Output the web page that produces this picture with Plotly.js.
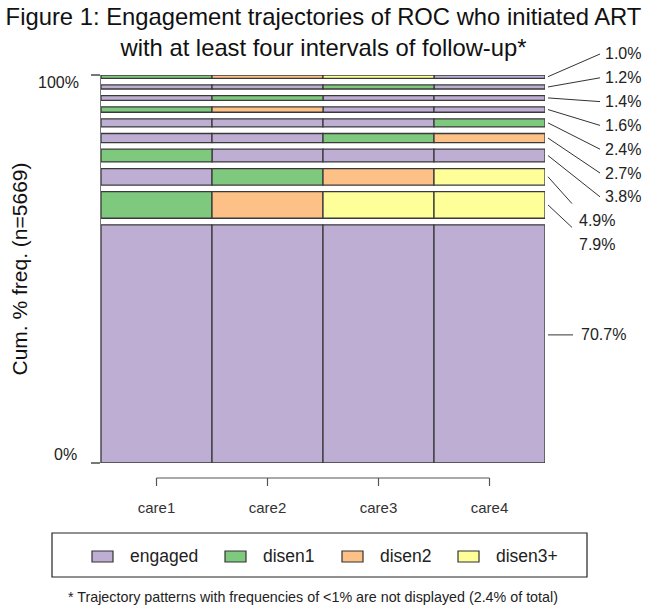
<!DOCTYPE html>
<html>
<head>
<meta charset="utf-8">
<script src="https://cdn.plot.ly/plotly-3.0.1.min.js"></script>
<style>
  html, body { margin: 0; padding: 0; background: #ffffff; }
  #chart { width: 647px; height: 608px; }
</style>
</head>
<body>
<div id="chart"></div>
<script>
// Sequence states (legend order) and their fill colours
const STATES = ['engaged', 'disen1', 'disen2', 'disen3+'];
const STATE_COLORS = ['#BEAED4', '#7FC97F', '#FDC086', '#FFFF99'];

// Follow-up intervals
const INTERVALS = ['care1', 'care2', 'care3', 'care4'];

// Trajectory patterns, most frequent first, one state per interval
const PATTERNS = [
  ['engaged', 'engaged', 'engaged', 'engaged'],
  ['disen1',  'disen2',  'disen3+', 'disen3+'],
  ['engaged', 'disen1',  'disen2',  'disen3+'],
  ['disen1',  'engaged', 'engaged', 'engaged'],
  ['engaged', 'engaged', 'disen1',  'disen2'],
  ['engaged', 'engaged', 'engaged', 'disen1'],
  ['disen1',  'disen2',  'engaged', 'engaged'],
  ['engaged', 'disen1',  'engaged', 'engaged'],
  ['engaged', 'engaged', 'disen1',  'engaged'],
  ['disen1',  'disen2',  'disen3+', 'engaged']
];

// Share of all sequences following each pattern (%)
const FREQ_PCT = [70.7, 7.9, 4.9, 3.8, 2.7, 2.4, 1.6, 1.4, 1.2, 1.0];

// Number of sequences
const N_SEQ = 5669;

// ---- page geometry (pixels) ----
const W = 647, H = 608;
const M = { l: 101, r: 102, t: 75, b: 145 };
const PW = W - M.l - M.r;
const PH = H - M.t - M.b;
const px2x = p => (p - M.l) / PW;          // pixel column -> paper x
const py2y = p => (H - M.b - p) / PH;      // pixel row    -> paper y

const FONT = 'Liberation Sans, Arial, Helvetica, sans-serif';

// ---- stacking: bars separated by a gap of 0.2 x the mean bar height ----
const total = FREQ_PCT.reduce((a, b) => a + b, 0);
const GAP = 0.2 * total / FREQ_PCT.length;
const bases = [];
let acc = 0;
FREQ_PCT.forEach((f, i) => {
  bases.push(acc);
  acc += f + (i < FREQ_PCT.length - 1 ? GAP : 0);
});
const YMAX = acc;

// ---- one bar trace per state ----
const traces = STATES.map((state, k) => {
  const x = [], y = [], base = [];
  PATTERNS.forEach((pat, i) => {
    pat.forEach((st, j) => {
      if (st === state) {
        x.push(INTERVALS[j]);
        y.push(FREQ_PCT[i]);
        base.push(bases[i]);
      }
    });
  });
  return {
    type: 'bar',
    name: state,
    x: x, y: y, base: base,
    width: 1,
    cliponaxis: false,
    marker: { color: STATE_COLORS[k], line: { color: '#3a3a3a', width: 1.3 } },
    showlegend: false,
    hoverinfo: 'skip'
  };
});

const shapes = [];
const annotations = [];

// ---- x axis bracket under the bars ----
const bracketY = py2y(478), bracketTickY = py2y(486);
shapes.push({
  type: 'line', xref: 'x', yref: 'paper',
  x0: 0, x1: INTERVALS.length - 1, y0: bracketY, y1: bracketY,
  line: { color: '#555', width: 1.2 }
});
INTERVALS.forEach((c, j) => {
  shapes.push({
    type: 'line', xref: 'x', yref: 'paper',
    x0: j, x1: j, y0: bracketY, y1: bracketTickY,
    line: { color: '#555', width: 1.2 }
  });
});

// ---- y tick labels ----
annotations.push({
  xref: 'paper', yref: 'paper', x: px2x(81), y: 1, xanchor: 'right', yanchor: 'middle',
  yshift: -7, text: '100%', showarrow: false, font: { family: FONT, size: 16, color: '#222' }
});
annotations.push({
  xref: 'paper', yref: 'paper', x: px2x(79), y: 0, xanchor: 'right', yanchor: 'middle',
  yshift: 9, text: '0%', showarrow: false, font: { family: FONT, size: 16, color: '#222' }
});

// ---- frequency labels with leader lines on the right ----
const LABEL_FONT = { family: FONT, size: 16, color: '#222' };
const n = FREQ_PCT.length;
const barEdge = 1 + 3 / PW;
FREQ_PCT.forEach((f, i) => {
  const centre = (bases[i] + f / 2) / YMAX;     // paper y of the bar centre
  const txt = f.toFixed(1) + '%';
  if (f >= 10) {
    // large bar: short horizontal leader beside it
    const ly = centre + 9 / PH;
    shapes.push({ type: 'line', xref: 'paper', yref: 'paper',
      x0: barEdge, x1: px2x(573), y0: ly, y1: ly, line: { color: '#333', width: 1 } });
    annotations.push({ xref: 'paper', yref: 'paper', x: px2x(579), y: ly,
      xanchor: 'left', yanchor: 'middle', text: txt, showarrow: false, font: LABEL_FONT });
  } else {
    // small bars: labels spread evenly down the right margin
    const slot = n - 1 - i;
    const labPy = 54 + 23.8 * slot;
    const inner = f >= 4;
    const textX = inner ? 577 : 603;
    const lineEndX = inner ? 572 : 600;
    const lineEndPy = inner ? labPy - 17 : labPy;
    shapes.push({ type: 'line', xref: 'paper', yref: 'paper',
      x0: barEdge, x1: px2x(lineEndX), y0: centre, y1: py2y(lineEndPy),
      line: { color: '#333', width: 1 } });
    annotations.push({ xref: 'paper', yref: 'paper', x: px2x(textX), y: py2y(labPy),
      xanchor: 'left', yanchor: 'middle', text: txt, showarrow: false, font: LABEL_FONT });
  }
});

// ---- legend box ----
shapes.push({ type: 'rect', xref: 'paper', yref: 'paper',
  x0: px2x(52), x1: px2x(587), y0: py2y(577), y1: py2y(533),
  line: { color: '#222', width: 1.2 }, fillcolor: 'rgba(0,0,0,0)' });
const LEGEND_SWATCH_X = [92, 225, 342, 458];
STATES.forEach((s, k) => {
  const sx = LEGEND_SWATCH_X[k];
  shapes.push({ type: 'rect', xref: 'paper', yref: 'paper',
    x0: px2x(sx), x1: px2x(sx + 21), y0: py2y(562), y1: py2y(551),
    line: { color: '#333', width: 1.2 }, fillcolor: STATE_COLORS[k] });
  annotations.push({ xref: 'paper', yref: 'paper', x: px2x(sx + 36), y: py2y(556),
    xanchor: 'left', yanchor: 'middle', text: s, showarrow: false,
    font: { family: FONT, size: 17.5, color: '#222' } });
});

// ---- footnote ----
const hiddenPct = (100 - total).toFixed(1);
annotations.push({ xref: 'paper', yref: 'paper', x: px2x(313), y: py2y(597),
  xanchor: 'center', yanchor: 'middle', showarrow: false,
  text: '* Trajectory patterns with frequencies of &lt;1% are not displayed (' + hiddenPct + '% of total)',
  font: { family: FONT, size: 14.3, color: '#222' } });

const layout = {
  width: W, height: H,
  margin: M,
  paper_bgcolor: '#ffffff', plot_bgcolor: '#ffffff',
  barmode: 'overlay',
  showlegend: false,
  title: {
    text: 'Figure 1: Engagement trajectories of ROC who initiated ART<br>with at least four intervals of follow-up*',
    font: { family: FONT, size: 23.8, color: '#111' },
    x: 0.5, xref: 'container', xanchor: 'center',
    y: 1 - 25 / H, yref: 'container', yanchor: 'middle'
  },
  xaxis: {
    type: 'category', categoryorder: 'array', categoryarray: INTERVALS,
    range: [-0.5, INTERVALS.length - 0.5],
    showgrid: false, zeroline: false, showline: false, ticks: '',
    ticklabelstandoff: 34,
    tickfont: { family: FONT, size: 15, color: '#333' },
    fixedrange: true
  },
  yaxis: {
    range: [0, YMAX],
    showgrid: false, zeroline: false,
    showline: true, linecolor: '#777', linewidth: 1.2,
    ticks: 'outside', ticklen: 9, tickcolor: '#777', tickwidth: 1.2,
    tickvals: [0, YMAX], showticklabels: false,
    title: { text: 'Cum. % freq. (n=' + N_SEQ + ')', font: { family: FONT, size: 21, color: '#111' }, standoff: 57 },
    fixedrange: true
  },
  shapes: shapes,
  annotations: annotations
};

Plotly.newPlot('chart', traces, layout, { staticPlot: true, displayModeBar: false });
</script>
</body>
</html>
